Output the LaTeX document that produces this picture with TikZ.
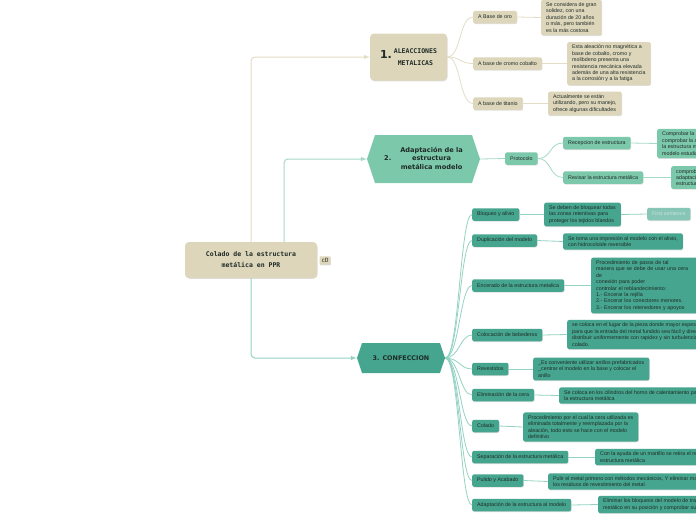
\documentclass[tikz,border=0pt]{standalone}
\usepackage{fontspec}
\setmainfont{Liberation Sans}
\setmonofont{DejaVu Sans Mono}
\newfontfamily\headfont{DejaVu Sans}
\usetikzlibrary{shapes.symbols,shadows}
\definecolor{tanbox}{HTML}{DDD6BA}
\definecolor{tanline}{HTML}{E3DDC6}
\definecolor{mint}{HTML}{7CC8AA}
\definecolor{mintline}{HTML}{A6DAC6}
\definecolor{teal3}{HTML}{46A58E}
\definecolor{tealline}{HTML}{94D2C3}
\definecolor{ink}{HTML}{1F2B27}
\begin{document}
\begin{tikzpicture}[x=1pt, y=-1pt, >=latex, text=ink,
          font=\fontsize{5.3}{6.4}\selectfont,
          box/.style={rounded corners=2pt, inner xsep=5pt, inner ysep=3pt, minimum height=12.5pt, anchor=west, align=left,
            drop shadow={shadow xshift=0.5pt, shadow yshift=-0.8pt, opacity=0.25}},
          tan/.style={box, fill=tanbox},
          mid/.style={box, fill=mint},
          deep/.style={box, fill=teal3},
          hexa/.style={signal, signal to=west and east, signal pointer angle=143, inner sep=0pt,
            font=\headfont\bfseries\fontsize{6.6}{8.5}\selectfont},
          trunk/.style={line width=1pt, rounded corners=4pt, ->},
          twig/.style={line width=0.8pt}]
        \fill[white] (0,0) rectangle (696,520);
        \useasboundingbox (0,0) rectangle (696,520);
        \node[tan, anchor=center, minimum width=132pt, minimum height=36pt, rounded corners=4pt, align=center,
          font=\ttfamily\bfseries\fontsize{6.5}{11}\selectfont] (root) at (251,260) {Colado de la estructura\\ metálica en PPR};
        \node[tan, anchor=center, inner sep=2pt, minimum height=0pt, rounded corners=1pt,
          font=\ttfamily\fontsize{5.8}{6}\selectfont] (tag) at (325,260.5) {cD};
        \node[tan, anchor=center, minimum width=77pt, minimum height=47pt, rounded corners=4pt, align=center] (n1) at (408.5,57)
          {{\headfont\bfseries\fontsize{11}{11}\selectfont 1.}\hspace{2pt}{\ttfamily\bfseries\fontsize{6.5}{12}\selectfont
           \begin{tabular}{@{}c@{}}ALEACCIONES\\ METALICAS\end{tabular}}};
        \node[hexa, fill=mint, minimum width=113pt, minimum height=48pt] (n2) at (423.5,159)
          {2.\hspace{9pt}\begin{tabular}{@{}c@{}}Adaptación de la\\ estructura\\ metálica modelo\end{tabular}};
        \node[hexa, fill=teal3, minimum width=88pt, minimum height=30pt, font=\headfont\bfseries\fontsize{6.4}{7}\selectfont]
          (n3) at (401,358) {3. CONFECCION};
        \draw[trunk, tanline] (root.north) |- (n1.west);
        \draw[trunk, mintline] ([xshift=33pt]root.north) |- (n2.west);
        \draw[trunk, tealline] (root.south) |- (n3.west);

        \node[tan] (oro) at (473,17) {A Base de oro};
        \node[tan] (cromo) at (473,63.5) {A base de cromo cobalto};
        \node[tan] (titanio) at (473,103.5) {A base de titanio};
        \node[tan] (oroi) at (541,17.5) {Se considera de gran\\ solidez, con una\\ duración de 20 años\\ o más, pero también\\ es la más costosa};
        \node[tan] (cromoi) at (567,63.5) {Esta aleación no magnética a\\ base de cobalto, cromo y\\ molibdeno presenta una\\ resistencia mecánica elevada\\ además de una alta resistencia\\ a la corrosión y a la fatiga};
        \node[tan] (titanioi) at (548,103.5) {Actualmente se están\\ utilizando, pero su manejo,\\ ofrece algunas dificultades};
        \foreach \c in {oro,cromo,titanio}
          \draw[twig, tanline] (n1.east) .. controls +(14,0) and +(-14,0) .. (\c.west);
        \foreach \c in {oro,cromo,titanio}
          \draw[twig, tanline] (\c.east) -- (\c i.west);

        \node[mid] (proto) at (505,158.5) {Protocolo};
        \node[mid] (recep) at (563,143) {Recepcion de estructura};
        \node[mid] (revis) at (563,177.5) {Revisar la estructura metálica};
        \node[mid] (recepi) at (657,143.5) {Comprobar la adaptación,\\ comprobar la armonía de\\ la estructura metálica en el\\ modelo estudiado};
        \node[mid] (revisi) at (671,177.5) {comprobar la\\ adaptación de la\\ estructura metálica};
        \draw[twig, mintline] (n2.east) -- (proto.west);
        \foreach \c in {recep,revis}
          \draw[twig, mintline] (proto.east) .. controls +(14,0) and +(-14,0) .. (\c.west);
        \foreach \c in {recep,revis}
          \draw[twig, mintline] (\c.east) -- (\c i.west);

        \node[deep] (bloq) at (472,214.5) {Bloqueo y alivio};
        \node[deep] (dupl) at (472,240.5) {Duplicación del modelo};
        \node[deep] (ence) at (472,285.5) {Encerado de la estructura metalica};
        \node[deep] (bebe) at (472,335) {Colocación de bebederos};
        \node[deep] (reve) at (472,369) {Revestidos};
        \node[deep] (elim) at (472,395) {Eliminación de la cera};
        \node[deep] (cola) at (472,426) {Colado};
        \node[deep] (sepa) at (472,457) {Separación de la estructura metálica};
        \node[deep] (puli) at (472,480.5) {Pulido y Acabado};
        \node[deep] (adap) at (472,505) {Adaptación de la estructura al modelo};
        \node[deep] (bloqi) at (544,214.5) {Se deben de bloquear todas\\ las zonas retentivas para\\ proteger los tejidos blandos};
        \node[deep, fill=teal3!65, text=white!70!teal3] (first) at (647,214) {First sentence};
        \node[deep] (dupli) at (563,241.5) {Se toma una impresión al modelo con el alivio,\\ con hidrocoloide reversible};
        \node[deep, text width=104pt] (encei) at (591,285.5) {Procedimiento de pasos de tal\\ manera que se debe de usar una cera\\ de\\ conexión para poder\\ controlar el reblandecimiento:\\ 1.- Encerar la rejilla\\ 2.- Encerar los conectores menores.\\ 3.- Encerar los retenedores y apoyos};
        \node[deep] (bebei) at (567,334.5) {se coloca en el lugar de la pieza donde mayor espesor tenga,\\ para que la entrada del metal fundido sea fácil y directa, y\\ distribuir uniformemente con rapidez y sin turbulencia el\\ colado.};
        \node[deep] (revei) at (533,369) {\_Es conveniente utilizar anillos prefabricados\\ \_centrar el modelo en la base y colocar el\\ anillo};
        \node[deep] (elimi) at (559,395.5) {Se coloca en los cilindros del horno de calentamiento para eliminar la cera de\\ la estructura metálica};
        \node[deep] (colai) at (523,427) {Procedimiento por el cual la cera utilizada es\\ eliminada totalmente y reemplazada por la\\ aleación, todo esto se hace con el modelo\\ definitivo};
        \node[deep] (sepai) at (595,457) {Con la ayuda de un martillo se retira el revestimiento de la\\ estructura metálica};
        \node[deep] (pulii) at (548,481.5) {Pulir el metal primero con métodos mecánicos, Y eliminar manualmente\\ los residuos de revestimiento del metal};
        \node[deep] (adapi) at (598,504.5) {Eliminar los bloqueos del modelo de trabajo, y colocar la estructura\\ metálico en su posición y comprobar su adaptación};
        \foreach \c in {bloq,dupl,ence,bebe,reve,elim,cola,sepa,puli,adap}
          \draw[twig, tealline] (n3.east) .. controls +(14,0) and +(-12,0) .. (\c.west);
        \foreach \c in {bloq,dupl,ence,bebe,reve,elim,cola,sepa,puli,adap}
          \draw[twig, tealline] (\c.east) -- (\c i.west);
        \draw[twig, tealline] (bloqi.east) -- (first.west);
      \end{tikzpicture}
\end{document}
